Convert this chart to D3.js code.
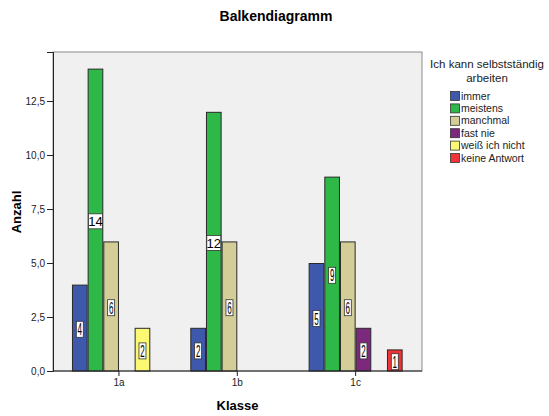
<!DOCTYPE html>
<html><head><meta charset="utf-8">
<script src="https://cdn.jsdelivr.net/npm/d3@7"></script>
<style>body{margin:0;background:#fff}svg{display:block;font-family:"Liberation Sans",Arial,sans-serif}</style>
</head><body>
<svg id="c" width="549" height="416"></svg>
<script>
const categories = ["1a", "1b", "1c"];
const seriesNames = ["immer", "meistens", "manchmal", "fast nie", "weiß ich nicht", "keine Antwort"];
const immer = [4, 2, 5];
const meistens = [14, 12, 9];
const manchmal = [6, 6, 6];
const fastNie = [0, 0, 2];
const weissNicht = [2, 0, 0];
const keineAntwort = [0, 0, 1];
const seriesValues = [immer, meistens, manchmal, fastNie, weissNicht, keineAntwort];
const colors = ["#3e58ac", "#2eb848", "#d3ce97", "#7c287d", "#fbf873", "#ef3338"];
const yTicks = [0, 2.5, 5, 7.5, 10, 12.5];

const svg = d3.select("#c");
const plot = {l: 53, r: 422, t: 52, b: 371};

svg.append("rect").attr("x", plot.l).attr("y", plot.t)
  .attr("width", plot.r - plot.l).attr("height", plot.b - plot.t)
  .attr("fill", "#f0f0f0").attr("stroke", "#8a8a8a").attr("stroke-width", 1);

const y = d3.scaleLinear().domain([0, 14.77]).range([plot.b, plot.t]);
const x = d3.scaleBand().domain(categories).range([59.8, 414.8]).padding(0);
const groupW = 94;
const xs = d3.scaleBand().domain(seriesNames).range([0, groupW]).padding(0);

const data = [];
categories.forEach((c, ci) => seriesNames.forEach((s, si) => {
  data.push({c, s, si, v: seriesValues[si][ci]});
}));

const gx = c => x(c) + x.bandwidth() / 2 - groupW / 2;

svg.append("g").selectAll("rect").data(data.filter(d => d.v > 0)).join("rect")
  .attr("x", d => gx(d.c) + xs(d.s) + 0.5)
  .attr("y", d => y(d.v) + 0.5)
  .attr("width", xs.bandwidth() - 1)
  .attr("height", d => y(0) - y(d.v) - 0.5)
  .attr("fill", d => colors[d.si])
  .attr("stroke", "#2a2a2a").attr("stroke-width", 1);

// labels
const lg = svg.append("g");
data.filter(d => d.v > 0).forEach(d => {
  const cx = gx(d.c) + xs(d.s) + xs.bandwidth() / 2;
  const cy = y(d.v / 2) + 1.5;
  const two = String(d.v).length > 1;
  const w = two ? 14 : 7, h = two ? 15 : 16;
  lg.append("rect").attr("x", cx - w / 2).attr("y", cy - h / 2).attr("width", w).attr("height", h)
    .attr("fill", "#fff").attr("stroke", "#333").attr("stroke-width", 0.8);
  if (two) {
    lg.append("text").attr("x", cx).attr("y", cy + 5).attr("text-anchor", "middle")
      .attr("font-size", 13).attr("fill", "#000").text(d.v);
  } else {
    lg.append("text").attr("transform", `translate(${cx},${cy + 6}) scale(0.8,1.6)`)
      .attr("text-anchor", "middle").attr("font-size", 10).attr("fill", "#000").text(d.v);
  }
});

// y axis
const yAxis = d3.axisLeft(y).tickValues(yTicks).tickSize(6).tickPadding(2)
  .tickFormat(d => d3.format(".1f")(d).replace(".", ","));
const ya = svg.append("g").attr("transform", `translate(${plot.l},0)`).call(yAxis);
ya.select(".domain").attr("stroke", "#222");
ya.selectAll(".tick line").attr("stroke", "#222");
ya.selectAll("text").attr("font-size", 10).attr("fill", "#222").attr("font-family", "Liberation Sans, Arial, sans-serif");

// x axis
const xAxis = d3.axisBottom(x).tickSize(5).tickPadding(3).tickSizeOuter(0);
const xa = svg.append("g").attr("transform", `translate(0,${plot.b})`).call(xAxis);
xa.select(".domain").remove();
svg.append("line").attr("x1", plot.l).attr("x2", plot.r).attr("y1", plot.b).attr("y2", plot.b).attr("stroke", "#222");
xa.selectAll(".tick line").attr("stroke", "#222");
xa.selectAll("text").attr("font-size", 10).attr("fill", "#222").attr("font-family", "Liberation Sans, Arial, sans-serif");

// titles
svg.append("text").attr("x", 276).attr("y", 21).attr("text-anchor", "middle")
  .attr("font-size", 14).attr("font-weight", "bold").text("Balkendiagramm");
svg.append("text").attr("x", 237.5).attr("y", 410).attr("text-anchor", "middle")
  .attr("font-size", 13).attr("font-weight", "bold").text("Klasse");
svg.append("text").attr("transform", "translate(21,212) rotate(-90)").attr("text-anchor", "middle")
  .attr("font-size", 13).attr("font-weight", "bold").text("Anzahl");

// legend
svg.append("text").attr("x", 487).attr("y", 68).attr("text-anchor", "middle").attr("font-size", 11.5)
  .attr("fill", "#222").text("Ich kann selbstständig");
svg.append("text").attr("x", 487).attr("y", 82).attr("text-anchor", "middle").attr("font-size", 11.5)
  .attr("fill", "#222").text("arbeiten");
const leg = svg.append("g");
seriesNames.forEach((s, i) => {
  const yy = 96 + i * 12.4;
  leg.append("rect").attr("x", 450.5).attr("y", yy - 4.5).attr("width", 9).attr("height", 9)
    .attr("fill", colors[i]).attr("stroke", "#333").attr("stroke-width", 0.8);
  leg.append("text").attr("x", 461).attr("y", yy + 3.5).attr("font-size", 10.5).attr("fill", "#222").text(s);
});
</script>
</body></html>
